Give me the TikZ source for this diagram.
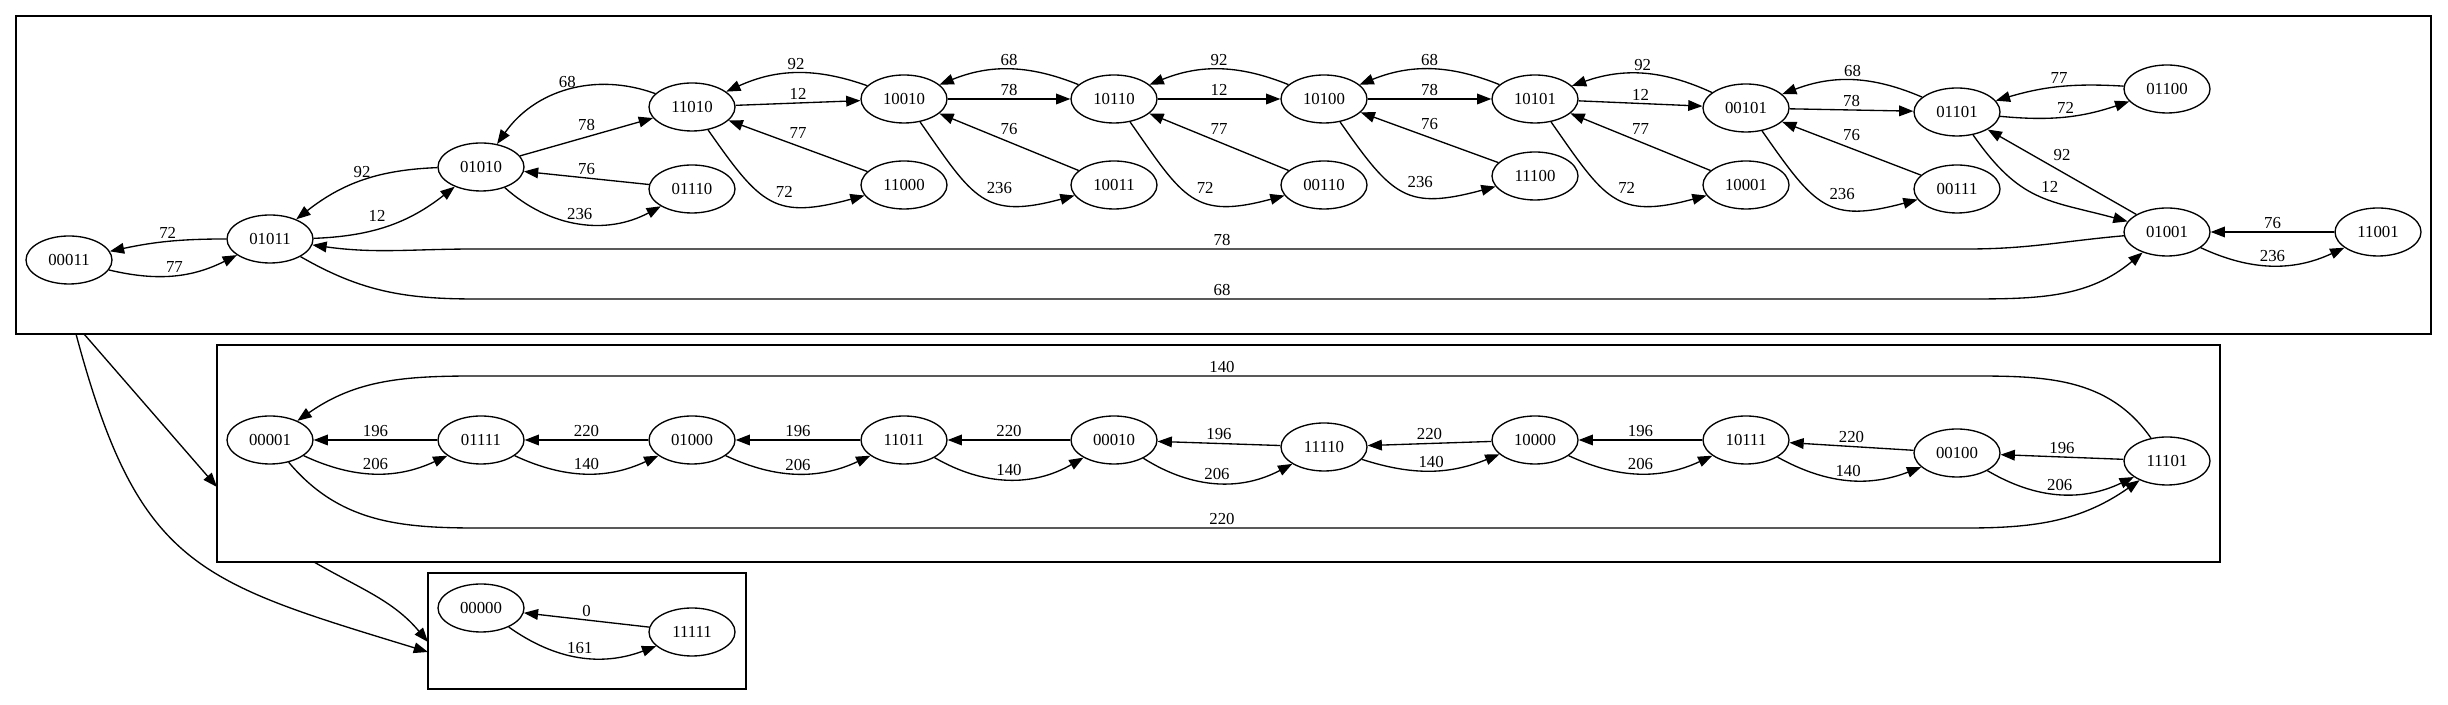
\documentclass[tikz,border=0pt]{standalone}
\usepackage{fontspec}
\setmainfont{Liberation Serif}
\usetikzlibrary{arrows.meta,shapes.geometric}

\begin{document}
\begin{tikzpicture}[x=0.75pt,y=0.75pt,
    state/.style={ellipse,draw,line width=1pt,minimum width=64.5pt,minimum height=36pt,inner sep=1pt,font=\fontsize{12.6pt}{14pt}\selectfont},
    tr/.style={-{Triangle[length=10.7pt,width=8pt]},line width=1pt},
    w/.style={font=\fontsize{12.6pt}{14pt}\selectfont,inner sep=2pt},
    dip/.style={out=-55,in=195,looseness=1.4},
    cluster/.style={draw,line width=1pt}]
\fill[white] (0,0) rectangle (2448,705);
\useasboundingbox (0,0) rectangle (2448,705);
% clusters
\draw[cluster] (16,371) rectangle (2431,689);
\draw[cluster] (217,143) rectangle (2220,360);
\draw[cluster] (428,16) rectangle (746,132);
\coordinate (c1a) at (84,371); \coordinate (c1b) at (76,371);
\coordinate (c2in) at (217,218); \coordinate (c2out) at (314,143);
\coordinate (c3a) at (428,53); \coordinate (c3b) at (428,63);
% first component
\node[state] (s00011) at (69,445) {00011};
\node[state] (s01011) at (270,466) {01011};
\node[state] (s01010) at (481,538) {01010};
\node[state] (s11010) at (692,598) {11010};
\node[state] (s01110) at (692,516) {01110};
\node[state] (s10010) at (904,606) {10010};
\node[state] (s11000) at (904,520) {11000};
\node[state] (s10110) at (1114,606) {10110};
\node[state] (s10011) at (1114,520) {10011};
\node[state] (s10100) at (1324,606) {10100};
\node[state] (s00110) at (1324,520) {00110};
\node[state] (s10101) at (1535,606) {10101};
\node[state] (s11100) at (1535,529) {11100};
\node[state] (s00101) at (1746,597) {00101};
\node[state] (s10001) at (1746,520) {10001};
\node[state] (s01101) at (1957,593) {01101};
\node[state] (s00111) at (1957,516) {00111};
\node[state] (s01100) at (2167,616) {01100};
\node[state] (s01001) at (2167,473) {01001};
\node[state] (s11001) at (2378,473) {11001};
\draw[tr] (s01011) to[bend right=6] node[w,above] {72} (s00011);
\draw[tr] (s00011) to[bend right=20] node[w,above] {77} (s01011);
\draw[tr] (s01010) to[bend right=18] node[w,above] {92} (s01011);
\draw[tr] (s01011) to[bend right=18] node[w,above left] {12} (s01010);
\draw[tr] (s11010) to[out=160,in=55] node[w,above] {68} (s01010);
\draw[tr] (s01010) -- node[w,above=2pt] {78} (s11010);
\draw[tr] (s01110) -- node[w,above] {76} (s01010);
\draw[tr] (s01010) to[bend right=35] node[w,above] {236} (s01110);
\draw[tr] (s10010) to[bend right=22] node[w,above] {92} (s11010);
\draw[tr] (s11010) -- node[w,above] {12} (s10010);
\draw[tr] (s11000) -- node[w,above=3pt] {77} (s11010);
\draw[tr] (s11010) to[dip] node[w,above right] {72} (s11000);
\draw[tr] (s10110) to[bend right=22] node[w,above] {68} (s10010);
\draw[tr] (s10010) -- node[w,above] {78} (s10110);
\draw[tr] (s10011) -- node[w,above=3pt] {76} (s10010);
\draw[tr] (s10010) to[dip] node[w,above right] {236} (s10011);
\draw[tr] (s10100) to[bend right=22] node[w,above] {92} (s10110);
\draw[tr] (s10110) -- node[w,above] {12} (s10100);
\draw[tr] (s00110) -- node[w,above=3pt] {77} (s10110);
\draw[tr] (s10110) to[dip] node[w,above right] {72} (s00110);
\draw[tr] (s10101) to[bend right=22] node[w,above] {68} (s10100);
\draw[tr] (s10100) -- node[w,above] {78} (s10101);
\draw[tr] (s11100) -- node[w,above=3pt] {76} (s10100);
\draw[tr] (s10100) to[dip] node[w,above right] {236} (s11100);
\draw[tr] (s00101) to[bend right=22] node[w,above] {92} (s10101);
\draw[tr] (s10101) -- node[w,above] {12} (s00101);
\draw[tr] (s10001) -- node[w,above=3pt] {77} (s10101);
\draw[tr] (s10101) to[dip] node[w,above right] {72} (s10001);
\draw[tr] (s01101) to[bend right=22] node[w,above] {68} (s00101);
\draw[tr] (s00101) -- node[w,above] {78} (s01101);
\draw[tr] (s00111) -- node[w,above=3pt] {76} (s00101);
\draw[tr] (s00101) to[dip] node[w,above right] {236} (s00111);
\draw[tr] (s01100) to[bend right=10] node[w,above] {77} (s01101);
\draw[tr] (s01101) to[bend right=12] node[w,above] {72} (s01100);
\draw[tr] (s01001) -- node[w,above=6pt] {92} (s01101);
\draw[tr] (s01101) to[out=-55,in=165,looseness=1.2] node[w,above right] {12} (s01001);
\draw[tr] (s11001) -- node[w,above] {76} (s01001);
\draw[tr] (s01001) to[bend right=25] node[w,above] {236} (s11001);
\draw[tr] (s01001) to[out=185,in=0] (1968,456) -- node[w,above] {78} (476,456) to[out=180,in=-8] (s01011);
\draw[tr] (s01011) to[out=-30,in=180] (476,406) -- node[w,above] {68} (1968,406) to[out=0,in=-140] (s01001);
% second component
\node[state] (s00001) at (270,265) {00001};
\node[state] (s01111) at (481,265) {01111};
\node[state] (s01000) at (692,265) {01000};
\node[state] (s11011) at (904,265) {11011};
\node[state] (s00010) at (1114,265) {00010};
\node[state] (s11110) at (1324,258) {11110};
\node[state] (s10000) at (1535,265) {10000};
\node[state] (s10111) at (1746,265) {10111};
\node[state] (s00100) at (1957,252) {00100};
\node[state] (s11101) at (2167,244) {11101};
\draw[tr] (s01111) -- node[w,above] {196} (s00001);
\draw[tr] (s00001) to[bend right=25] node[w,above] {206} (s01111);
\draw[tr] (s01000) -- node[w,above] {220} (s01111);
\draw[tr] (s01111) to[bend right=25] node[w,above] {140} (s01000);
\draw[tr] (s11011) -- node[w,above] {196} (s01000);
\draw[tr] (s01000) to[bend right=25] node[w,above] {206} (s11011);
\draw[tr] (s00010) -- node[w,above] {220} (s11011);
\draw[tr] (s11011) to[bend right=30] node[w,above] {140} (s00010);
\draw[tr] (s11110) -- node[w,above] {196} (s00010);
\draw[tr] (s00010) to[bend right=30] node[w,above] {206} (s11110);
\draw[tr] (s10000) -- node[w,above] {220} (s11110);
\draw[tr] (s11110) to[bend right=20] node[w,above] {140} (s10000);
\draw[tr] (s10111) -- node[w,above] {196} (s10000);
\draw[tr] (s10000) to[bend right=25] node[w,above] {206} (s10111);
\draw[tr] (s00100) -- node[w,above] {220} (s10111);
\draw[tr] (s10111) to[bend right=25] node[w,above] {140} (s00100);
\draw[tr] (s11101) -- node[w,above] {196} (s00100);
\draw[tr] (s00100) to[bend right=28] node[w,above] {206} (s11101);
\draw[tr] (s11101) to[out=125,in=0] (1968,329) -- node[w,above] {140} (476,329) to[out=180,in=35] (s00001);
\draw[tr] (s00001) to[out=-50,in=180] (476,177) -- node[w,above] {220} (1968,177) to[out=0,in=-145] (s11101);
% third component
\node[state] (s00000) at (481,97) {00000};
\node[state] (s11111) at (692,73) {11111};
\draw[tr] (s11111) -- node[w,above] {0} (s00000);
\draw[tr] (s00000) to[bend right=28] node[w,above] {161} (s11111);
% between components
\draw[tr] (c1a) -- (c2in);
\draw[tr] (c1b) to[out=-75,in=163,looseness=1.3] (c3a);
\draw[tr] (c2out) to[out=-30,in=130] (c3b);
\end{tikzpicture}
\end{document}
